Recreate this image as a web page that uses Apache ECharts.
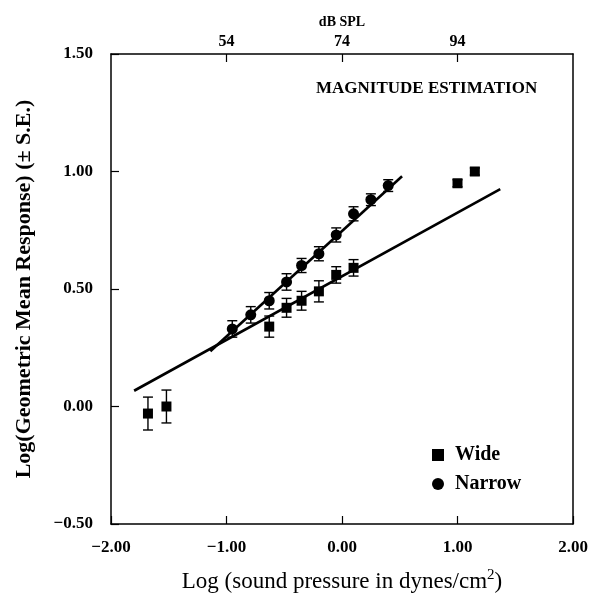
<!DOCTYPE html>
<html>
<head>
<meta charset="utf-8">
<script src="https://cdn.jsdelivr.net/npm/echarts@6/dist/echarts.min.js"></script>
<style>html,body{margin:0;padding:0;background:#fff}#c{width:593px;height:599px}</style>
</head>
<body>
<div id="c"></div>
<script>
const wideX = [-1.68, -1.52, -0.63, -0.48, -0.35, -0.20, -0.05, 0.10, 1.00, 1.15];
const wideY = [-0.03, 0.00, 0.34, 0.42, 0.45, 0.49, 0.56, 0.59, 0.95, 1.00];
const wideSE = [0.07, 0.07, 0.045, 0.04, 0.04, 0.045, 0.035, 0.035, 0.015, 0.015];

const narrowX = [-0.95, -0.79, -0.63, -0.48, -0.35, -0.20, -0.05, 0.10, 0.25, 0.40];
const narrowY = [0.33, 0.39, 0.45, 0.53, 0.60, 0.65, 0.73, 0.82, 0.88, 0.94];
const narrowSE = [0.035, 0.035, 0.035, 0.035, 0.03, 0.03, 0.03, 0.03, 0.025, 0.025];

const wideFitX = [-1.80, 1.37];
const wideFitY = [0.067, 0.925];
const narrowFitX = [-1.14, 0.52];
const narrowFitY = [0.235, 0.98];

const topTickValues = [-1, 0, 1];
const topTickLabels = ['54', '74', '94'];

const FONT = '"Liberation Serif", "DejaVu Serif", serif';
const pairs = (xs, ys) => xs.map((x, i) => [x, ys[i]]);
const triples = (xs, ys, es) => xs.map((x, i) => [x, ys[i], es[i]]);
const fmt = v => (v < 0 ? '\u2212' : '') + Math.abs(v).toFixed(2);

function errRender(params, api) {
  const x = api.value(0), y = api.value(1), e = api.value(2);
  const t = api.coord([x, y + e]);
  const b = api.coord([x, y - e]);
  const w = 5;
  const st = { stroke: '#000', lineWidth: 1.4 };
  return {
    type: 'group',
    children: [
      { type: 'line', shape: { x1: t[0], y1: t[1], x2: b[0], y2: b[1] }, style: st },
      { type: 'line', shape: { x1: t[0] - w, y1: t[1], x2: t[0] + w, y2: t[1] }, style: st },
      { type: 'line', shape: { x1: b[0] - w, y1: b[1], x2: b[0] + w, y2: b[1] }, style: st }
    ]
  };
}

const chart = echarts.init(document.getElementById('c'), null, { renderer: 'canvas' });
const axisLine = { show: true, onZero: false, lineStyle: { color: '#000', width: 1.5 } };
chart.setOption({
  animation: false,
  backgroundColor: '#fff',
  textStyle: { fontFamily: FONT, color: '#000' },
  title: {
    text: 'MAGNITUDE ESTIMATION',
    left: 311, top: 75,
    textStyle: { fontFamily: FONT, fontWeight: 'bold', fontSize: 17, color: '#000' }
  },
  legend: {
    data: ['Wide', 'Narrow'],
    orient: 'vertical',
    left: 427, top: 440,
    itemWidth: 12, itemHeight: 12, itemGap: 9,
    textStyle: { fontFamily: FONT, fontWeight: 'bold', fontSize: 20, color: '#000', padding: [0, 0, 0, 6] }
  },
  grid: { left: 111, right: 20, top: 54, bottom: 75, containLabel: false },
  xAxis: [
    {
      type: 'value', position: 'bottom', min: -2, max: 2, interval: 1,
      axisLine, splitLine: { show: false },
      axisTick: { inside: true, length: 8, lineStyle: { color: '#000', width: 1.2 } },
      axisLabel: { formatter: fmt, margin: 15, fontFamily: FONT, fontWeight: 'bold', fontSize: 17, color: '#000' },
      name: 'Log (sound pressure in dynes/cm{sup|2})',
      nameLocation: 'middle', nameGap: 44,
      nameTextStyle: {
        fontFamily: FONT, fontSize: 23, color: '#000',
        rich: { sup: { fontFamily: FONT, fontSize: 15, color: '#000', verticalAlign: 'top', padding: [0, 0, 12, 0] } }
      }
    },
    {
      type: 'value', position: 'top', min: -2, max: 2, interval: 1,
      axisLine, splitLine: { show: false },
      axisTick: { inside: true, length: 8, lineStyle: { color: '#000', width: 1.2 },
        customValues: topTickValues },
      axisLabel: {
        customValues: topTickValues,
        formatter: v => { const i = topTickValues.indexOf(v); return i >= 0 ? topTickLabels[i] : ''; },
        margin: 4, fontFamily: FONT, fontWeight: 'bold', fontSize: 16, color: '#000'
      },
      name: 'dB SPL', nameLocation: 'middle', nameGap: 24,
      nameTextStyle: { fontFamily: FONT, fontWeight: 'bold', fontSize: 14, color: '#000' }
    }
  ],
  yAxis: [
    {
      type: 'value', position: 'left', min: -0.5, max: 1.5, interval: 0.5,
      axisLine, splitLine: { show: false },
      axisTick: { inside: true, length: 8, lineStyle: { color: '#000', width: 1.2 } },
      axisLabel: { formatter: fmt, margin: 18, fontFamily: FONT, fontWeight: 'bold', fontSize: 17, color: '#000' },
      name: 'Log(Geometric Mean Response) (\u00b1 S.E.)',
      nameLocation: 'middle', nameGap: 76, nameRotate: 90,
      nameTextStyle: { fontFamily: FONT, fontWeight: 'bold', fontSize: 22, color: '#000' }
    },
    {
      type: 'value', position: 'right', min: -0.5, max: 1.5, interval: 0.5,
      axisLine, splitLine: { show: false }, axisTick: { show: false }, axisLabel: { show: false }
    }
  ],
  series: [
    { name: 'WideFit', type: 'line', data: pairs(wideFitX, wideFitY), symbol: 'none',
      lineStyle: { color: '#000', width: 2.6 }, silent: true, z: 1 },
    { name: 'NarrowFit', type: 'line', data: pairs(narrowFitX, narrowFitY), symbol: 'none',
      lineStyle: { color: '#000', width: 2.6 }, silent: true, z: 1 },
    { name: 'WideErr', type: 'custom', renderItem: errRender, data: triples(wideX, wideY, wideSE), z: 2 },
    { name: 'NarrowErr', type: 'custom', renderItem: errRender, data: triples(narrowX, narrowY, narrowSE), z: 2 },
    { name: 'Wide', type: 'scatter', data: pairs(wideX, wideY), symbol: 'rect', symbolSize: 10,
      itemStyle: { color: '#000', opacity: 1 }, z: 3 },
    { name: 'Narrow', type: 'scatter', data: pairs(narrowX, narrowY), symbol: 'circle', symbolSize: 11,
      itemStyle: { color: '#000', opacity: 1 }, z: 3 }
  ]
});
</script>
</body>
</html>
